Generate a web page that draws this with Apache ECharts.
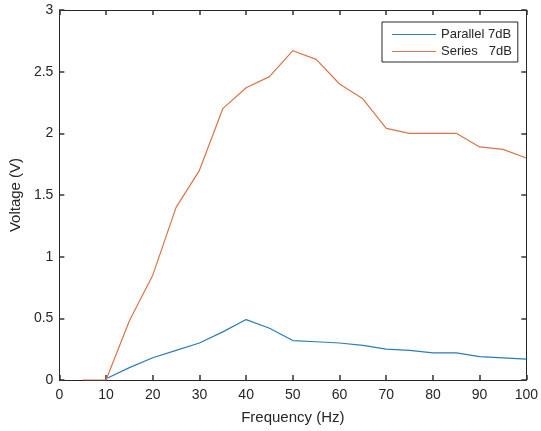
<!DOCTYPE html>
<html>
<head>
<meta charset="utf-8">
<script src="https://cdn.jsdelivr.net/npm/echarts@6/dist/echarts.min.js"></script>
<style>
  html, body { margin: 0; padding: 0; background: #fff; }
  #chart { width: 541px; height: 431px; }
</style>
</head>
<body>
<div id="chart"></div>
<script>
var frequency = [5, 10, 15, 20, 25, 30, 35, 40, 45, 50, 55, 60, 65, 70, 75, 80, 85, 90, 95, 100];
var parallel7dB = [null, 0.01, 0.1, 0.18, 0.24, 0.3, 0.39, 0.49, 0.42, 0.32, 0.31, 0.3, 0.28, 0.25, 0.24, 0.22, 0.22, 0.19, 0.18, 0.17];
var series7dB = [0, 0, 0.48, 0.85, 1.4, 1.7, 2.2, 2.37, 2.46, 2.67, 2.6, 2.4, 2.28, 2.04, 2.0, 2.0, 2.0, 1.89, 1.87, 1.8];

function pairs(values) {
    var out = [];
    frequency.forEach(function(f, i) {
        out.push([f, values[i]]);
    });
    return out;
}

var axisColor = '#262626';
var font = 'Liberation Sans, Arial, sans-serif';
var lineIcon = 'path://M0,0H44V1H0Z';

var chart = echarts.init(document.getElementById('chart'));

// box axes like matlab: line on all four sides, ticks pointing in
function boxAxis(extra) {
    return Object.assign({
        axisLine: {show: true, onZero: false, lineStyle: {color: axisColor}},
        axisTick: {show: true, inside: true, length: 5, lineStyle: {color: '#333', width: 1.5}},
        splitLine: {show: false}
    }, extra);
}

option = {
    animation: false,
    backgroundColor: '#fff',
    grid: {left: 59, right: 12, top: 10, bottom: 51},
    legend: {
        orient: 'vertical',
        left: 382,
        top: 22,
        padding: [6, 6, 4, 10],
        itemWidth: 44,
        itemHeight: 14,
        itemGap: 4,
        backgroundColor: '#fff',
        borderColor: axisColor,
        borderWidth: 1,
        borderRadius: 0,
        textStyle: {fontFamily: font, fontSize: 13, color: axisColor},
        data: [
            {name: 'Parallel 7dB', icon: lineIcon},
            {name: 'Series   7dB', icon: lineIcon}
        ]
    },
    xAxis: [
        boxAxis({
            type: 'value', min: 0, max: 100, interval: 10, position: 'bottom',
            name: 'Frequency (Hz)', nameLocation: 'middle', nameGap: 30,
            nameTextStyle: {fontFamily: font, fontSize: 15, color: axisColor},
            axisLabel: {fontFamily: font, fontSize: 14, color: axisColor, margin: 8}
        }),
        boxAxis({
            type: 'value', min: 0, max: 100, interval: 10, position: 'top',
            axisLabel: {show: false}
        })
    ],
    yAxis: [
        boxAxis({
            type: 'value', min: 0, max: 3, interval: 0.5, position: 'left',
            name: 'Voltage (V)', nameLocation: 'middle', nameGap: 32,
            nameTextStyle: {fontFamily: font, fontSize: 15, color: axisColor},
            axisLabel: {fontFamily: font, fontSize: 14, color: axisColor, margin: 6}
        }),
        boxAxis({
            type: 'value', min: 0, max: 3, interval: 0.5, position: 'right',
            axisLabel: {show: false}
        })
    ],
    series: [
        {
            name: 'Parallel 7dB',
            type: 'line',
            data: pairs(parallel7dB),
            symbol: 'none',
            lineStyle: {color: '#2a7db8', width: 1.2},
            itemStyle: {color: '#2a7db8'}
        },
        {
            name: 'Series   7dB',
            type: 'line',
            data: pairs(series7dB),
            symbol: 'none',
            lineStyle: {color: '#d9744a', width: 1.2},
            itemStyle: {color: '#d9744a'}
        }
    ]
};

chart.setOption(option);
</script>
</body>
</html>
